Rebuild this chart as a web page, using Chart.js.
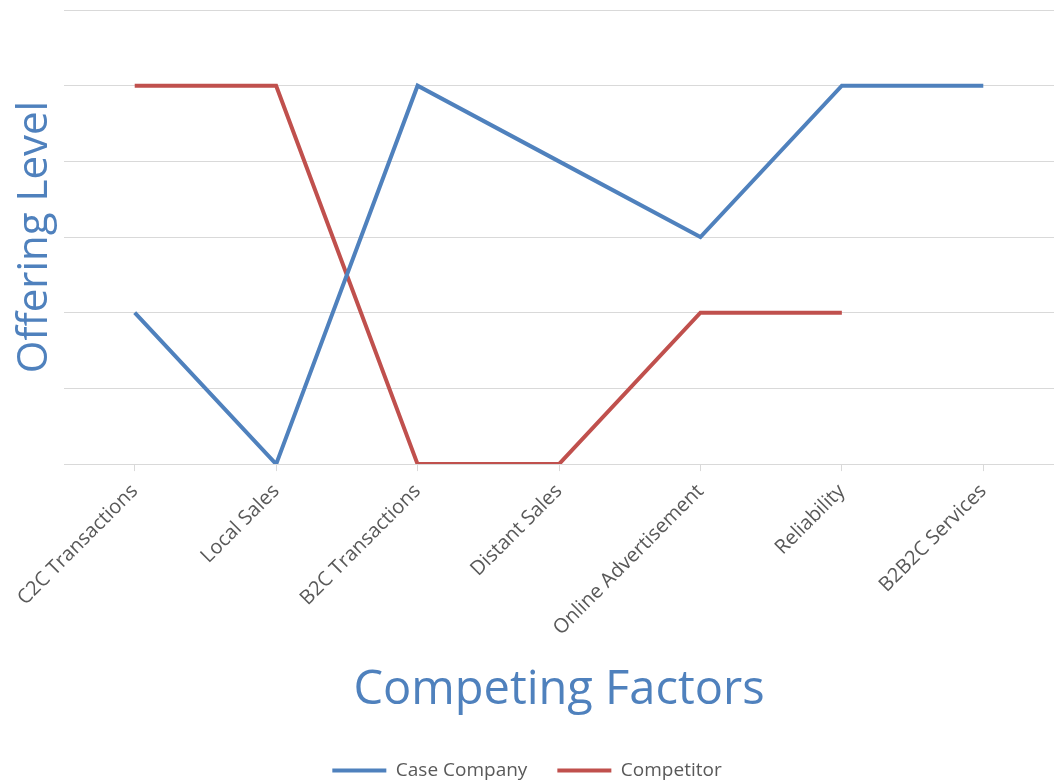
<!DOCTYPE html>
<html>
<head>
<meta charset="utf-8">
<script src="https://cdn.jsdelivr.net/npm/chart.js@4/dist/chart.umd.min.js"></script>
<style>
  html,body{margin:0;padding:0;background:#fff;}
  #wrap{width:1054px;height:782px;}
</style>
</head>
<body>
<div id="wrap"><canvas id="chart"></canvas></div>
<script>
const factors=["C2C Transactions","Local Sales","B2C Transactions","Distant Sales","Online Advertisement","Reliability","B2B2C Services"]
const caseCompany=[2,0,5,4,3,5,5]
const competitor=[5,5,0,0,2,2,null]

const blue="#4F81BD"
const red="#C0504D"
const font="'Open Sans', 'Liberation Sans', sans-serif"

const ctx=document.querySelector("#chart")
new Chart(ctx,{
  type:"line",
  data:{
    labels:factors,
    datasets:[{
      label:"Case Company",
      data:caseCompany,
      borderColor:blue,
      backgroundColor:blue,
      borderWidth:4,
      pointRadius:0,
      tension:0
    },{
      label:"Competitor",
      data:competitor,
      borderColor:red,
      backgroundColor:red,
      borderWidth:4,
      pointRadius:0,
      tension:0,
      spanGaps:false
    }]
  },
  options:{
    responsive:true,
    maintainAspectRatio:false,
    animation:false,
    layout:{padding:{top:10,right:0,bottom:-8,left:0}},
    plugins:{
      tooltip:{enabled:false},
      legend:{
        position:"bottom",
        labels:{
          boxWidth:54,
          boxHeight:4,
          padding:30,
          color:"#595959",
          font:{family:font,size:19},
          generateLabels:chart=>chart.data.datasets.map((ds,i)=>({
            text:ds.label,
            fillStyle:ds.borderColor,
            strokeStyle:ds.borderColor,
            lineWidth:0,
            fontColor:"#595959",
            datasetIndex:i
          }))
        }
      }
    },
    scales:{
      x:{
        offset:true,
        grid:{display:true,drawOnChartArea:false,drawTicks:true,tickLength:7,color:"#d9d9d9",offset:false},
        border:{display:true,color:"#d9d9d9"},
        ticks:{
          color:"#595959",
          font:{family:font,size:20},
          maxRotation:45,
          minRotation:45,
          padding:8.5
        },
        title:{
          display:true,
          text:"Competing Factors",
          color:blue,
          font:{family:font,size:47},
          padding:{top:14,bottom:12}
        }
      },
      y:{
        min:0,
        max:6,
        ticks:{display:false,stepSize:1},
        grid:{color:"#d9d9d9",drawTicks:false},
        border:{display:false},
        title:{
          display:true,
          text:"Offering Level",
          color:blue,
          font:{family:font,size:42},
          padding:{top:10,bottom:0}
        },
        afterFit:scale=>{scale.width=64}
      }
    }
  }
})
</script>
</body>
</html>
